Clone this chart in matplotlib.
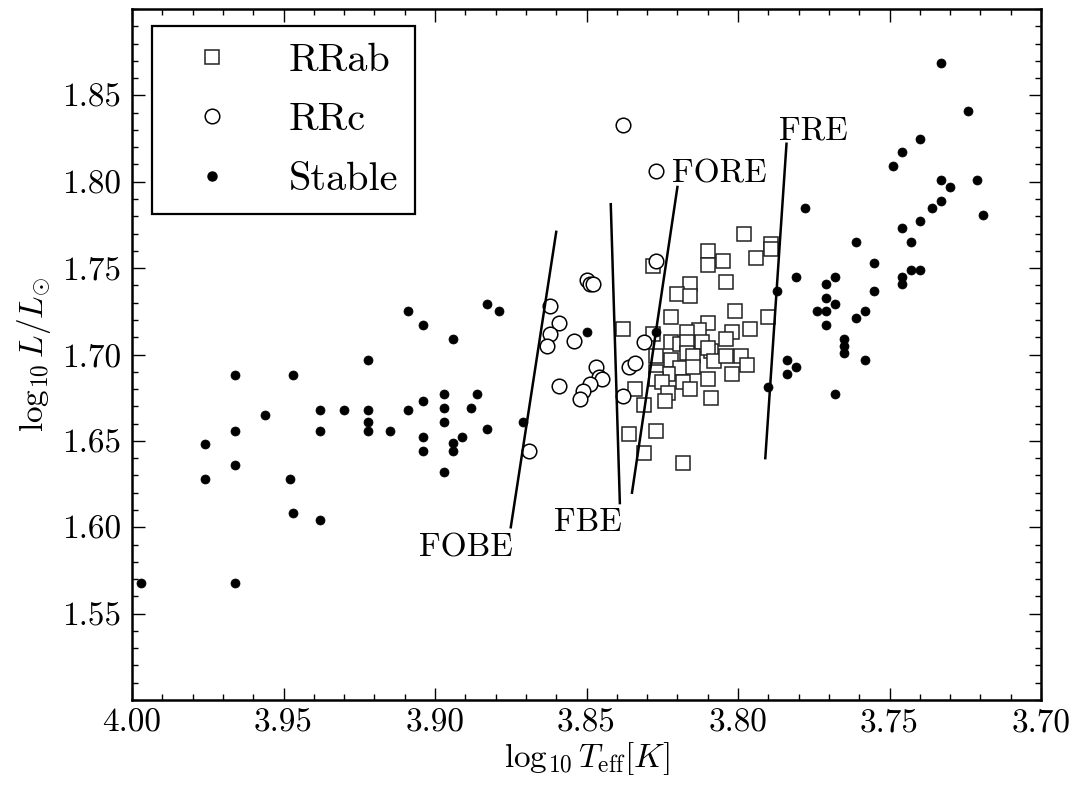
import matplotlib
matplotlib.use("Agg")
import matplotlib.pyplot as plt
from matplotlib.lines import Line2D

plt.rcParams['font.family'] = 'serif'
plt.rcParams['font.serif'] = ['cmr10', 'DejaVu Serif']
plt.rcParams['mathtext.fontset'] = 'cm'
plt.rcParams['axes.formatter.use_mathtext'] = True

# ---------------- data ----------------
stable_T = [3.997, 3.966, 3.947, 3.922, 3.909, 3.956, 3.938, 3.930, 3.922, 3.922,
            3.922, 3.915, 3.909, 3.938, 3.966, 3.976, 3.966, 3.976, 3.948, 3.947,
            3.938, 3.966,
            3.904, 3.894, 3.883, 3.879, 3.904, 3.897, 3.897, 3.897, 3.886, 3.888,
            3.904, 3.904, 3.894, 3.894, 3.891, 3.897, 3.883, 3.871, 3.850, 3.827,
            3.733, 3.724, 3.740, 3.746, 3.749, 3.733, 3.730, 3.721, 3.719, 3.733,
            3.736, 3.740, 3.746, 3.743, 3.778, 3.761, 3.755, 3.743, 3.740, 3.746,
            3.746, 3.755, 3.781, 3.771, 3.768, 3.771, 3.768, 3.774, 3.771, 3.771,
            3.761, 3.758, 3.765, 3.765, 3.765, 3.758, 3.784, 3.781, 3.784, 3.768,
            3.787, 3.790]
stable_L = [1.568, 1.688, 1.688, 1.697, 1.725, 1.665, 1.668, 1.668, 1.668, 1.661,
            1.656, 1.656, 1.668, 1.656, 1.656, 1.648, 1.636, 1.628, 1.628, 1.608,
            1.604, 1.568,
            1.717, 1.709, 1.729, 1.725, 1.673, 1.677, 1.669, 1.661, 1.677, 1.669,
            1.652, 1.644, 1.649, 1.644, 1.652, 1.632, 1.657, 1.661, 1.713, 1.713,
            1.869, 1.841, 1.825, 1.817, 1.809, 1.801, 1.797, 1.801, 1.781, 1.789,
            1.785, 1.777, 1.773, 1.765, 1.785, 1.765, 1.753, 1.749, 1.749, 1.745,
            1.741, 1.737, 1.745, 1.741, 1.745, 1.733, 1.729, 1.725, 1.725, 1.717,
            1.721, 1.725, 1.709, 1.705, 1.701, 1.697, 1.697, 1.693, 1.689, 1.677,
            1.737, 1.681]

rrc_T = [3.838, 3.827, 3.827, 3.850, 3.849, 3.848, 3.862, 3.859, 3.862, 3.863,
         3.854, 3.847, 3.846, 3.845, 3.859, 3.849, 3.851, 3.852, 3.869, 3.836,
         3.834, 3.838, 3.831]
rrc_L = [1.833, 1.806, 1.754, 1.743, 1.741, 1.741, 1.728, 1.718, 1.712, 1.705,
         1.708, 1.693, 1.687, 1.686, 1.682, 1.683, 1.679, 1.674, 1.644, 1.693,
         1.695, 1.676, 1.707]

rrab_T = [3.798, 3.810, 3.805, 3.810, 3.794, 3.789, 3.789, 3.828, 3.816, 3.820,
          3.816, 3.804, 3.822, 3.801, 3.790, 3.838, 3.828, 3.810, 3.813, 3.817,
          3.796, 3.802, 3.804, 3.822, 3.819, 3.817, 3.812, 3.809, 3.810, 3.817,
          3.827, 3.822, 3.815, 3.808, 3.804, 3.799, 3.797, 3.819, 3.815, 3.823,
          3.827, 3.827, 3.802, 3.810, 3.825, 3.818, 3.823, 3.816, 3.824, 3.809,
          3.834, 3.831, 3.836, 3.827, 3.831, 3.818]
rrab_L = [1.770, 1.760, 1.754, 1.752, 1.756, 1.764, 1.761, 1.751, 1.741, 1.735,
          1.734, 1.742, 1.722, 1.725, 1.722, 1.715, 1.712, 1.718, 1.714, 1.713,
          1.715, 1.713, 1.709, 1.707, 1.706, 1.707, 1.707, 1.702, 1.704, 1.701,
          1.699, 1.697, 1.699, 1.696, 1.699, 1.699, 1.694, 1.692, 1.693, 1.689,
          1.690, 1.686, 1.689, 1.686, 1.684, 1.684, 1.678, 1.680, 1.673, 1.675,
          1.680, 1.671, 1.654, 1.656, 1.643, 1.637]

edge_names = ['FOBE', 'FBE', 'FORE', 'FRE']
edge_T0 = [3.875, 3.839, 3.835, 3.791]
edge_L0 = [1.600, 1.614, 1.620, 1.640]
edge_T1 = [3.860, 3.842, 3.820, 3.784]
edge_L1 = [1.771, 1.787, 1.797, 1.822]
label_T = [3.8898, 3.8495, 3.806, 3.7752]
label_L = [1.588, 1.603, 1.8045, 1.8294]

# ---------------- figure ----------------
fig = plt.figure(figsize=(10.76, 7.85), dpi=100)
ax = fig.add_axes([0.1227, 0.1083, 0.8448, 0.8802])

ax.plot(rrab_T, rrab_L, linestyle='none', marker='s', ms=10.5,
        mfc='white', mec='#222222', mew=1.1, zorder=3)
ax.plot(rrc_T, rrc_L, linestyle='none', marker='o', ms=10.5,
        mfc='white', mec='black', mew=1.1, zorder=4)
ax.plot(stable_T, stable_L, linestyle='none', marker='o', ms=6.5,
        mfc='black', mec='black', mew=0.5, zorder=5)

for i in range(len(edge_names)):
    ax.plot([edge_T0[i], edge_T1[i]], [edge_L0[i], edge_L1[i]],
            color='black', lw=1.8, zorder=6)
    ax.text(label_T[i], label_L[i], edge_names[i], fontsize=24,
            ha='center', va='center', zorder=7)

ax.set_xlim(4.00, 3.70)
ax.set_ylim(1.50, 1.90)
ax.set_xticks([4.00, 3.95, 3.90, 3.85, 3.80, 3.75, 3.70])
ax.set_yticks([1.55, 1.60, 1.65, 1.70, 1.75, 1.80, 1.85])
ax.xaxis.set_major_formatter(matplotlib.ticker.FormatStrFormatter('%.2f'))
ax.yaxis.set_major_formatter(matplotlib.ticker.FormatStrFormatter('%.2f'))
ax.xaxis.set_minor_locator(matplotlib.ticker.MultipleLocator(0.01))
ax.yaxis.set_minor_locator(matplotlib.ticker.MultipleLocator(0.01))
ax.tick_params(which='both', direction='in', top=True, right=True,
               labelsize=24, width=1.0)
ax.tick_params(which='major', length=9)
ax.tick_params(which='minor', length=4.5)
ax.tick_params(axis='x', pad=6)
ax.tick_params(axis='y', pad=8)
for s in ax.spines.values():
    s.set_linewidth(1.8)

ax.set_xlabel(r'$\log_{10}T_{\rm eff}[K]$', fontsize=24, labelpad=2)
ax.set_ylabel(r'$\log_{10}L/L_{\odot}$', fontsize=24, labelpad=6)

handles = [
    Line2D([], [], linestyle='none', marker='s', ms=10.5, mfc='white', mec='#222222', mew=1.1),
    Line2D([], [], linestyle='none', marker='o', ms=10.5, mfc='white', mec='black', mew=1.1),
    Line2D([], [], linestyle='none', marker='o', ms=6.5, mfc='black', mec='black'),
]
leg = ax.legend(handles, ['RRab', 'RRc', 'Stable'], loc='upper left',
                bbox_to_anchor=(0.022, 0.975), borderaxespad=0, fontsize=29,
                fancybox=False, framealpha=1, edgecolor='black',
                handlelength=2.2, handletextpad=0.8, labelspacing=0.58,
                borderpad=0.4, numpoints=1)
leg.get_frame().set_linewidth(1.6)

fig.savefig('out.png', dpi=100)
